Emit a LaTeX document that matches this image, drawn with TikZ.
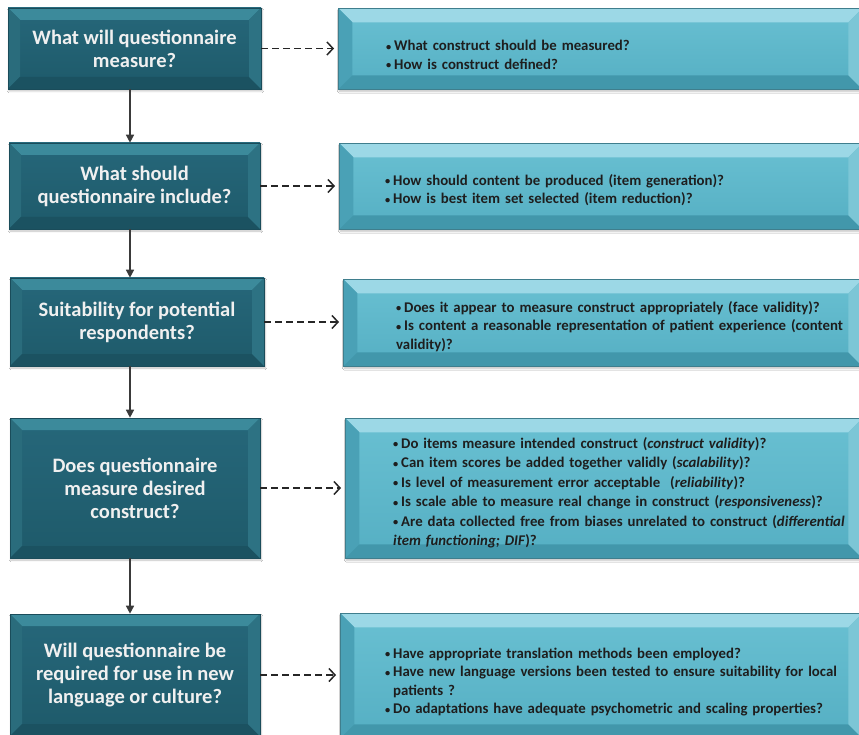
\documentclass[tikz,border=0pt]{standalone}
\usepackage{fontspec}
\usepackage{graphicx}
\setmainfont{Carlito}
\usetikzlibrary{arrows.meta,shadows.blur}

\definecolor{qfacetop}{HTML}{26677A}
\definecolor{qfacebot}{HTML}{1E5A6A}
\definecolor{qtop}{HTML}{3C8A9B}
\definecolor{qleft}{HTML}{2A6C7C}
\definecolor{qbot}{HTML}{1B5261}
\definecolor{qright}{HTML}{2D7283}
\definecolor{qedge}{HTML}{1A4C5A}
\definecolor{afacetop}{HTML}{69C0D2}
\definecolor{afacebot}{HTML}{55AFC3}
\definecolor{atop}{HTML}{9CD8E6}
\definecolor{aleft}{HTML}{4AA1B6}
\definecolor{abot}{HTML}{4297AB}
\definecolor{aright}{HTML}{7CC6D6}
\definecolor{aedge}{HTML}{3F7E8D}
\definecolor{ink}{HTML}{1E1E1E}
\definecolor{linkgray}{HTML}{3A3A3A}

% four bevelled edges inside a rectangular node
\newcommand\bevelpic[5]{%
  \path (path picture bounding box.north west) coordinate (bnw)
        (path picture bounding box.north east) coordinate (bne)
        (path picture bounding box.south west) coordinate (bsw)
        (path picture bounding box.south east) coordinate (bse);
  \fill[#1] (bnw) -- (bne) -- ([shift={(-#5,-#5)}]bne) -- ([shift={(#5,-#5)}]bnw) -- cycle;
  \fill[#2] (bnw) -- ([shift={(#5,-#5)}]bnw) -- ([shift={(#5,#5)}]bsw) -- (bsw) -- cycle;
  \fill[#3] (bsw) -- ([shift={(#5,#5)}]bsw) -- ([shift={(-#5,#5)}]bse) -- (bse) -- cycle;
  \fill[#4] (bse) -- ([shift={(-#5,#5)}]bse) -- ([shift={(-#5,-#5)}]bne) -- (bne) -- cycle;
}

% bulleted question with hanging indent
\newcommand\qitem[1]{\par\hangindent=8pt\hangafter=1\noindent
  \makebox[8pt][l]{\raisebox{0.5pt}{\scalebox{0.7}{\textbullet}}}#1}

\tikzset{
  qbox/.style={rectangle, draw=qedge, line width=0.6pt,
    top color=qfacetop, bottom color=qfacebot,
    path picture={\bevelpic{qtop}{qleft}{qbot}{qright}{12pt}},
    blur shadow={shadow xshift=1pt, shadow yshift=-2pt, shadow opacity=25, shadow blur steps=6},
    text=white!94!black, align=center, inner sep=0pt,
    font=\bfseries\fontsize{20.5}{23}\selectfont},
  abox/.style={rectangle, draw=aedge, line width=0.6pt,
    top color=afacetop, bottom color=afacebot,
    path picture={\bevelpic{atop}{aleft}{abot}{aright}{14pt}},
    blur shadow={shadow xshift=1pt, shadow yshift=-2pt, shadow opacity=25, shadow blur steps=6},
    inner sep=0pt, anchor=north west},
  atext/.style={anchor=west, text=ink, align=left, text width=490pt, inner sep=0pt,
    font=\bfseries\fontsize{14.8}{18.5}\selectfont},
  flow/.style={draw=linkgray, line width=1.4pt, -{Triangle[width=8pt,length=8pt]}},
  hint/.style={draw=black!85, line width=1.6pt, dash pattern=on 7pt off 4pt,
    -{Straight Barb[length=6pt,width=13pt,line width=1.5pt]}, shorten >=4pt}
}

\begin{document}
\begin{tikzpicture}[x=1pt,y=-1pt]
\useasboundingbox (0,0) rectangle (859,735);
\fill[white] (0,0) rectangle (859,735);

% question boxes on the left
\node[qbox, minimum width=253pt, minimum height=81pt] (L1) at (134.5,48.5)
  {What will questionnaire\\measure?};
\node[qbox, minimum width=251pt, minimum height=86pt] (L2) at (134.5,186)
  {What should\\questionnaire include?};
\node[qbox, minimum width=254pt, minimum height=88pt] (L3) at (137,322)
  {Suitability for potential\\respondents?};
\node[qbox, minimum width=250pt, minimum height=140pt] (L4) at (135,488)
  {Does questionnaire\\measure desired\\construct?};
\node[qbox, minimum width=250pt, minimum height=122pt] (L5) at (135,675)
  {Will questionnaire be\\required for use in new\\language or culture?};

% answer boxes on the right
\node[abox, minimum width=524pt, minimum height=81pt] (R1) at (338,8) {};
\node[abox, minimum width=523pt, minimum height=86pt] (R2) at (339,143) {};
\node[abox, minimum width=519pt, minimum height=87pt] (R3) at (343,279) {};
\node[abox, minimum width=517pt, minimum height=140pt] (R4) at (345,418) {};
\node[abox, minimum width=522pt, minimum height=125pt] (R5) at (340,613) {};

\node[atext] (R1t) at ([xshift=48pt,yshift=-2pt]R1.west) {%
  \qitem{What construct should be measured?}
  \qitem{How is construct defined?}};
\node[atext] (R2t) at ([xshift=46pt]R2.west) {%
  \qitem{How should content be produced (item generation)?}
  \qitem{How is best item set selected (item reduction)?}};
\node[atext] (R3t) at ([xshift=53pt]R3.west) {%
  \qitem{Does it appear to measure construct appropriately (face validity)?}
  \qitem{Is content a reasonable representation of patient experience (content\newline validity)?}};
\node[atext, font=\bfseries\fontsize{14.8}{19.5}\selectfont] (R4t) at ([xshift=48pt]R4.west) {%
  \qitem{Do items measure intended construct (\textit{construct validity})?}
  \qitem{Can item scores be added together validly (\textit{scalability})?}
  \qitem{Is level of measurement error acceptable\ \ (\textit{reliability})?}
  \qitem{Is scale able to measure real change in construct (\textit{responsiveness})?}
  \qitem{Are data collected free from biases unrelated to construct (\textit{differential}\newline \textit{item functioning; DIF})?}};
\node[atext] (R5t) at ([xshift=45pt,yshift=-2pt]R5.west) {%
  \qitem{Have appropriate translation methods been employed?}
  \qitem{Have new language versions been tested to ensure suitability for local\newline patients ?}
  \qitem{Do adaptations have adequate psychometric and scaling properties?}};

% vertical flow between questions
\coordinate (ax) at (130,0);
\draw[flow] (L1.south -| ax) -- (L2.north -| ax);
\draw[flow] (L2.south -| ax) -- (L3.north -| ax);
\draw[flow] (L3.south -| ax) -- (L4.north -| ax);
\draw[flow] (L4.south -| ax) -- (L5.north -| ax);

% dashed links from each question to its details
\draw[hint] (L1.east) -- (L1.east -| R1.west);
\draw[hint] (L2.east) -- (L2.east -| R2.west);
\draw[hint] (L3.east) -- (L3.east -| R3.west);
\draw[hint] (L4.east) -- (L4.east -| R4.west);
\draw[hint] (L5.east) -- (L5.east -| R5.west);
\end{tikzpicture}
\end{document}
